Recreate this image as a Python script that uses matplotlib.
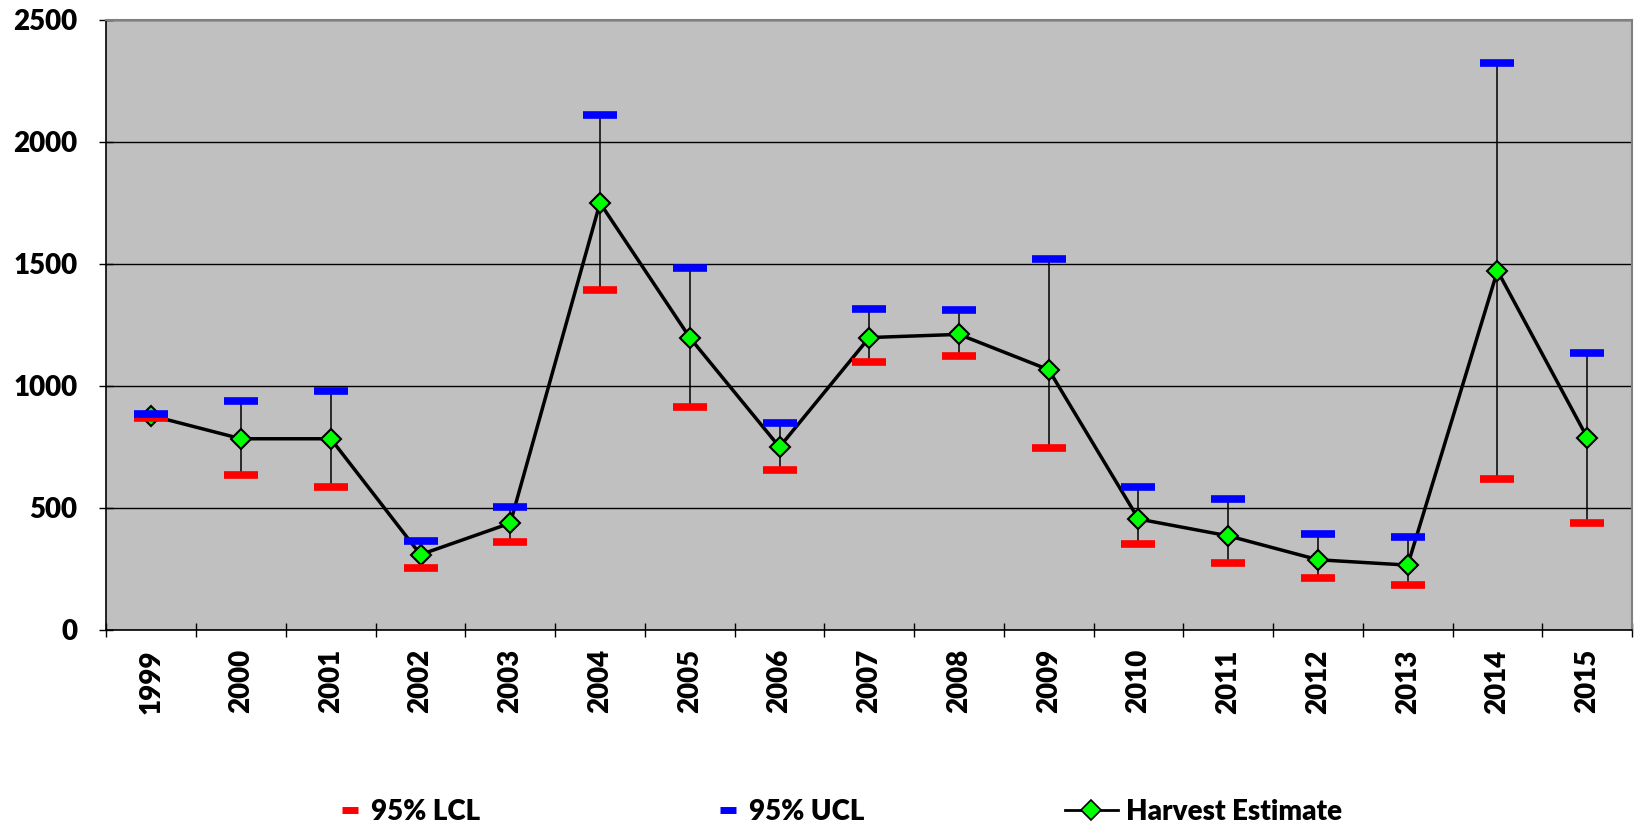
import matplotlib
matplotlib.use("Agg")
import matplotlib.pyplot as plt
from matplotlib.lines import Line2D
import numpy as np

years = ["1999", "2000", "2001", "2002", "2003", "2004", "2005", "2006", "2007",
         "2008", "2009", "2010", "2011", "2012", "2013", "2014", "2015"]
harvest = [878, 783, 783, 308, 437, 1750, 1198, 749, 1198,
           1211, 1066, 454, 385, 287, 265, 1472, 788]
lcl = [870, 633, 586, 252, 360, 1391, 912, 655, 1096,
       1121, 745, 351, 274, 214, 184, 620, 437]
ucl = [885, 937, 980, 364, 505, 2110, 1485, 847, 1314,
       1310, 1519, 586, 535, 394, 381, 2324, 1134]

# Lato is the closest thing to Calibri here
plt.rcParams["font.family"] = ["Lato", "DejaVu Sans"]
WT = "heavy"
plt.rcParams["font.weight"] = WT
FS = 20

fig = plt.figure(figsize=(16.37, 8.33), dpi=100)
ax = fig.add_axes([0.065, 0.244, 0.932, 0.732])
ax.set_facecolor("#C0C0C0")

x = np.arange(len(years))

# error range lines
ax.vlines(x, lcl, ucl, color="black", lw=1.1, zorder=3)

ax.plot(x, harvest, color="black", lw=2.5, marker="D", markersize=10,
        markerfacecolor="#00FF00", markeredgecolor="black", markeredgewidth=1.5,
        zorder=4)
ax.plot(x, lcl, ls="none", marker="_", markersize=24, markeredgewidth=5.5,
        color="#FF0000", zorder=5)
ax.plot(x, ucl, ls="none", marker="_", markersize=24, markeredgewidth=5.5,
        color="#0000FF", zorder=5)

ax.set_ylim(0, 2500)
ax.set_xlim(-0.5, len(years) - 0.5)
ax.set_yticks(range(0, 2501, 500))
ax.yaxis.grid(True, color="black", lw=1)
ax.set_axisbelow(True)

ax.set_xticks(x)
ax.set_xticklabels(years, rotation=90, fontsize=FS, fontweight=WT)
ax.set_xticks(np.arange(-0.5, len(years), 1), minor=True)
ax.tick_params(axis="x", which="major", length=0, pad=14)
ax.tick_params(axis="x", which="minor", length=10, direction="inout", width=1)
ax.tick_params(axis="y", length=10, direction="inout", width=1, labelsize=FS, pad=16)
for lab in ax.get_yticklabels():
    lab.set_fontweight(WT)

for s in ["top", "right"]:
    ax.spines[s].set_color("#808080")
    ax.spines[s].set_linewidth(1.5)
for s in ["left", "bottom"]:
    ax.spines[s].set_color("black")
    ax.spines[s].set_linewidth(1.2)

# legend entries placed one by one, like Excel's bottom legend
dash_kw = dict(ls="none", marker="_", markersize=11, markeredgewidth=5)
entries = [
    (Line2D([], [], color="#FF0000", **dash_kw), "95% LCL", 336, 1.0, 0.25),
    (Line2D([], [], color="#0000FF", **dash_kw), "95% UCL", 714, 1.0, 0.25),
    (Line2D([], [], color="black", lw=2, marker="D", markersize=10,
            markerfacecolor="#00FF00", markeredgecolor="black", markeredgewidth=1.2),
     "Harvest Estimate", 1065, 1.9, 0.3),
]
for h, lab, px, hl, tp in entries:
    fig.legend([h], [lab], loc="center left", bbox_to_anchor=(px / 1637, 0.025),
               frameon=False, borderpad=0, borderaxespad=0,
               handlelength=hl, handletextpad=tp,
               prop={"weight": WT, "size": FS})

fig.savefig("out.png", dpi=100)
